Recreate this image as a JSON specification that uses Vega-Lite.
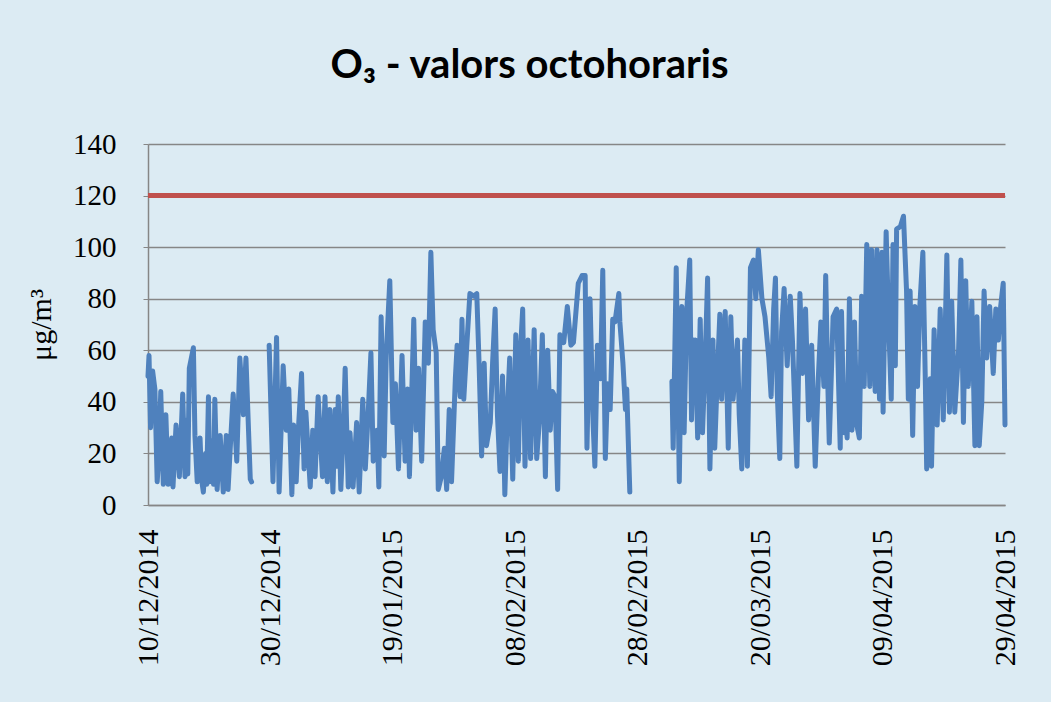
{
"$schema": "https://vega.github.io/schema/vega-lite/v6.json",
"width": 857, "height": 361,
"autosize": {"type": "none"},
"padding": {"left": 148, "top": 144, "right": 46, "bottom": 197},
"background": "#DCEBF3",
"title": {"text": "O₃ - valors octohoraris", "font": "Lato", "fontSize": 40, "fontWeight": "bold", "color": "#000000", "dx": -47, "offset": 44, "anchor": "middle"},
"config": {"view": {"stroke": null}},
"data": {"values": [
{"t":"2014-12-10T00:00","v":50,"s":1},{"t":"2014-12-10T04:00","v":58,"s":1},{"t":"2014-12-10T10:00","v":30,"s":1},{"t":"2014-12-10T18:00","v":52,"s":1},{"t":"2014-12-11T03:00","v":45,"s":1},{"t":"2014-12-11T12:00","v":9,"s":1},{"t":"2014-12-11T19:00","v":20,"s":1},{"t":"2014-12-12T02:00","v":44,"s":1},{"t":"2014-12-12T12:00","v":8,"s":1},{"t":"2014-12-12T22:00","v":35,"s":1},{"t":"2014-12-13T07:00","v":8,"s":1},{"t":"2014-12-13T14:00","v":20,"s":1},{"t":"2014-12-13T21:00","v":26,"s":1},{"t":"2014-12-14T02:00","v":7,"s":1},{"t":"2014-12-14T14:00","v":31,"s":1},{"t":"2014-12-15T03:00","v":11,"s":1},{"t":"2014-12-15T16:00","v":43,"s":1},{"t":"2014-12-16T01:00","v":11,"s":1},{"t":"2014-12-16T07:00","v":33,"s":1},{"t":"2014-12-16T12:00","v":12,"s":1},{"t":"2014-12-16T18:00","v":53,"s":1},{"t":"2014-12-17T10:00","v":61,"s":1},{"t":"2014-12-17T16:00","v":27,"s":1},{"t":"2014-12-18T01:00","v":9,"s":1},{"t":"2014-12-18T12:00","v":26,"s":1},{"t":"2014-12-18T18:00","v":10,"s":1},{"t":"2014-12-19T01:00","v":5,"s":1},{"t":"2014-12-19T10:00","v":20,"s":1},{"t":"2014-12-19T14:00","v":8,"s":1},{"t":"2014-12-19T21:00","v":42,"s":1},{"t":"2014-12-20T02:00","v":9,"s":1},{"t":"2014-12-20T12:00","v":25,"s":1},{"t":"2014-12-20T17:00","v":8,"s":1},{"t":"2014-12-20T22:00","v":41,"s":1},{"t":"2014-12-21T07:00","v":6,"s":1},{"t":"2014-12-21T19:00","v":27,"s":1},{"t":"2014-12-22T07:00","v":5,"s":1},{"t":"2014-12-22T19:00","v":27,"s":1},{"t":"2014-12-23T02:00","v":6,"s":1},{"t":"2014-12-23T12:00","v":25,"s":1},{"t":"2014-12-23T22:00","v":43,"s":1},{"t":"2014-12-24T12:00","v":17,"s":1},{"t":"2014-12-25T00:00","v":57,"s":1},{"t":"2014-12-25T14:00","v":35,"s":1},{"t":"2014-12-26T00:00","v":57,"s":1},{"t":"2014-12-26T17:00","v":10,"s":1},{"t":"2014-12-26T22:00","v":9,"s":1},
{"t":"2014-12-29T19:00","v":62,"s":2},{"t":"2014-12-30T10:00","v":9,"s":2},{"t":"2014-12-31T00:00","v":65,"s":2},{"t":"2014-12-31T10:00","v":5,"s":2},{"t":"2015-01-01T02:00","v":54,"s":2},{"t":"2015-01-01T14:00","v":29,"s":2},{"t":"2015-01-02T00:00","v":45,"s":2},{"t":"2015-01-02T12:00","v":4,"s":2},{"t":"2015-01-02T19:00","v":31,"s":2},{"t":"2015-01-03T05:00","v":9,"s":2},{"t":"2015-01-03T14:00","v":30,"s":2},{"t":"2015-01-04T02:00","v":51,"s":2},{"t":"2015-01-04T12:00","v":14,"s":2},{"t":"2015-01-04T19:00","v":36,"s":2},{"t":"2015-01-05T12:00","v":7,"s":2},{"t":"2015-01-05T22:00","v":29,"s":2},{"t":"2015-01-06T07:00","v":11,"s":2},{"t":"2015-01-06T19:00","v":42,"s":2},{"t":"2015-01-07T12:00","v":11,"s":2},{"t":"2015-01-07T22:00","v":42,"s":2},{"t":"2015-01-08T07:00","v":9,"s":2},{"t":"2015-01-08T17:00","v":37,"s":2},{"t":"2015-01-09T05:00","v":5,"s":2},{"t":"2015-01-09T14:00","v":37,"s":2},{"t":"2015-01-09T19:00","v":15,"s":2},{"t":"2015-01-10T02:00","v":42,"s":2},{"t":"2015-01-10T12:00","v":6,"s":2},{"t":"2015-01-10T22:00","v":30,"s":2},{"t":"2015-01-11T05:00","v":53,"s":2},{"t":"2015-01-11T17:00","v":7,"s":2},{"t":"2015-01-12T00:00","v":28,"s":2},{"t":"2015-01-12T12:00","v":7,"s":2},{"t":"2015-01-13T02:00","v":32,"s":2},{"t":"2015-01-13T12:00","v":5,"s":2},{"t":"2015-01-14T02:00","v":41,"s":2},{"t":"2015-01-14T12:00","v":14,"s":2},{"t":"2015-01-15T00:00","v":37,"s":2},{"t":"2015-01-15T10:00","v":59,"s":2},{"t":"2015-01-15T19:00","v":17,"s":2},{"t":"2015-01-16T10:00","v":29,"s":2},{"t":"2015-01-16T17:00","v":7,"s":2},{"t":"2015-01-17T02:00","v":73,"s":2},{"t":"2015-01-17T14:00","v":19,"s":2},{"t":"2015-01-17T22:00","v":58,"s":2},{"t":"2015-01-18T12:00","v":87,"s":2},{"t":"2015-01-19T00:00","v":32,"s":2},{"t":"2015-01-19T10:00","v":47,"s":2},{"t":"2015-01-19T22:00","v":14,"s":2},{"t":"2015-01-20T12:00","v":58,"s":2},{"t":"2015-01-21T00:00","v":17,"s":2},{"t":"2015-01-21T10:00","v":45,"s":2},{"t":"2015-01-21T17:00","v":11,"s":2},{"t":"2015-01-22T10:00","v":72,"s":2},{"t":"2015-01-22T19:00","v":29,"s":2},{"t":"2015-01-23T05:00","v":53,"s":2},{"t":"2015-01-23T17:00","v":17,"s":2},{"t":"2015-01-24T07:00","v":71,"s":2},{"t":"2015-01-24T19:00","v":55,"s":2},{"t":"2015-01-25T05:00","v":98,"s":2},{"t":"2015-01-25T14:00","v":68,"s":2},{"t":"2015-01-26T02:00","v":59,"s":2},{"t":"2015-01-26T10:00","v":6,"s":2},{"t":"2015-01-26T22:00","v":11,"s":2},{"t":"2015-01-27T10:00","v":22,"s":2},{"t":"2015-01-27T19:00","v":6,"s":2},{"t":"2015-01-28T05:00","v":37,"s":2},{"t":"2015-01-28T14:00","v":9,"s":2},{"t":"2015-01-29T05:00","v":49,"s":2},{"t":"2015-01-29T12:00","v":62,"s":2},{"t":"2015-01-30T00:00","v":42,"s":2},{"t":"2015-01-30T07:00","v":72,"s":2},{"t":"2015-01-30T14:00","v":41,"s":2},{"t":"2015-01-31T02:00","v":62,"s":2},{"t":"2015-01-31T14:00","v":82,"s":2},{"t":"2015-02-01T05:00","v":81,"s":2},{"t":"2015-02-01T17:00","v":82,"s":2},{"t":"2015-02-02T02:00","v":55,"s":2},{"t":"2015-02-02T12:00","v":19,"s":2},{"t":"2015-02-02T22:00","v":55,"s":2},{"t":"2015-02-03T07:00","v":23,"s":2},{"t":"2015-02-03T22:00","v":32,"s":2},{"t":"2015-02-04T07:00","v":55,"s":2},{"t":"2015-02-04T17:00","v":76,"s":2},{"t":"2015-02-05T02:00","v":35,"s":2},{"t":"2015-02-05T12:00","v":13,"s":2},{"t":"2015-02-05T22:00","v":50,"s":2},{"t":"2015-02-06T07:00","v":4,"s":2},{"t":"2015-02-06T17:00","v":37,"s":2},{"t":"2015-02-07T02:00","v":57,"s":2},{"t":"2015-02-07T14:00","v":10,"s":2},{"t":"2015-02-08T02:00","v":66,"s":2},{"t":"2015-02-08T12:00","v":17,"s":2},{"t":"2015-02-08T22:00","v":63,"s":2},{"t":"2015-02-09T05:00","v":76,"s":2},{"t":"2015-02-09T14:00","v":15,"s":2},{"t":"2015-02-10T02:00","v":64,"s":2},{"t":"2015-02-10T12:00","v":18,"s":2},{"t":"2015-02-11T02:00","v":68,"s":2},{"t":"2015-02-11T12:00","v":18,"s":2},{"t":"2015-02-11T22:00","v":32,"s":2},{"t":"2015-02-12T10:00","v":66,"s":2},{"t":"2015-02-12T22:00","v":11,"s":2},{"t":"2015-02-13T07:00","v":60,"s":2},{"t":"2015-02-13T17:00","v":29,"s":2},{"t":"2015-02-14T02:00","v":44,"s":2},{"t":"2015-02-14T12:00","v":42,"s":2},{"t":"2015-02-14T22:00","v":6,"s":2},{"t":"2015-02-15T07:00","v":66,"s":2},{"t":"2015-02-15T22:00","v":63,"s":2},{"t":"2015-02-16T12:00","v":77,"s":2},{"t":"2015-02-17T02:00","v":62,"s":2},{"t":"2015-02-17T12:00","v":63,"s":2},{"t":"2015-02-18T07:00","v":86,"s":2},{"t":"2015-02-18T22:00","v":89,"s":2},{"t":"2015-02-19T10:00","v":89,"s":2},{"t":"2015-02-19T17:00","v":22,"s":2},{"t":"2015-02-20T05:00","v":80,"s":2},{"t":"2015-02-20T17:00","v":32,"s":2},{"t":"2015-02-21T00:00","v":15,"s":2},{"t":"2015-02-21T10:00","v":62,"s":2},{"t":"2015-02-21T22:00","v":49,"s":2},{"t":"2015-02-22T07:00","v":91,"s":2},{"t":"2015-02-22T17:00","v":18,"s":2},{"t":"2015-02-23T02:00","v":47,"s":2},{"t":"2015-02-23T12:00","v":37,"s":2},{"t":"2015-02-23T22:00","v":72,"s":2},{"t":"2015-02-24T07:00","v":71,"s":2},{"t":"2015-02-24T22:00","v":82,"s":2},{"t":"2015-02-25T02:00","v":71,"s":2},{"t":"2015-02-25T14:00","v":55,"s":2},{"t":"2015-02-26T00:00","v":37,"s":2},{"t":"2015-02-26T05:00","v":45,"s":2},{"t":"2015-02-26T17:00","v":5,"s":2},
{"t":"2015-03-05T14:00","v":48,"s":3},{"t":"2015-03-05T19:00","v":22,"s":3},{"t":"2015-03-06T07:00","v":92,"s":3},{"t":"2015-03-06T19:00","v":9,"s":3},{"t":"2015-03-07T05:00","v":77,"s":3},{"t":"2015-03-07T14:00","v":28,"s":3},{"t":"2015-03-08T00:00","v":75,"s":3},{"t":"2015-03-08T12:00","v":95,"s":3},{"t":"2015-03-08T19:00","v":33,"s":3},{"t":"2015-03-09T02:00","v":64,"s":3},{"t":"2015-03-09T07:00","v":40,"s":3},{"t":"2015-03-09T10:00","v":64,"s":3},{"t":"2015-03-09T19:00","v":26,"s":3},{"t":"2015-03-10T05:00","v":72,"s":3},{"t":"2015-03-10T14:00","v":28,"s":3},{"t":"2015-03-11T00:00","v":55,"s":3},{"t":"2015-03-11T10:00","v":88,"s":3},{"t":"2015-03-11T19:00","v":14,"s":3},{"t":"2015-03-12T07:00","v":64,"s":3},{"t":"2015-03-12T14:00","v":22,"s":3},{"t":"2015-03-13T00:00","v":50,"s":3},{"t":"2015-03-13T10:00","v":74,"s":3},{"t":"2015-03-13T17:00","v":41,"s":3},{"t":"2015-03-14T07:00","v":75,"s":3},{"t":"2015-03-14T19:00","v":22,"s":3},{"t":"2015-03-15T05:00","v":73,"s":3},{"t":"2015-03-15T14:00","v":41,"s":3},{"t":"2015-03-16T07:00","v":64,"s":3},{"t":"2015-03-16T14:00","v":35,"s":3},{"t":"2015-03-17T00:00","v":14,"s":3},{"t":"2015-03-17T12:00","v":64,"s":3},{"t":"2015-03-17T22:00","v":15,"s":3},{"t":"2015-03-18T10:00","v":92,"s":3},{"t":"2015-03-18T22:00","v":95,"s":3},{"t":"2015-03-19T07:00","v":80,"s":3},{"t":"2015-03-19T17:00","v":99,"s":3},{"t":"2015-03-20T07:00","v":80,"s":3},{"t":"2015-03-20T19:00","v":73,"s":3},{"t":"2015-03-21T10:00","v":57,"s":3},{"t":"2015-03-21T19:00","v":42,"s":3},{"t":"2015-03-22T05:00","v":76,"s":3},{"t":"2015-03-22T12:00","v":88,"s":3},{"t":"2015-03-22T19:00","v":44,"s":3},{"t":"2015-03-23T05:00","v":18,"s":3},{"t":"2015-03-23T12:00","v":67,"s":3},{"t":"2015-03-23T22:00","v":84,"s":3},{"t":"2015-03-24T10:00","v":54,"s":3},{"t":"2015-03-24T22:00","v":81,"s":3},{"t":"2015-03-25T07:00","v":63,"s":3},{"t":"2015-03-26T00:00","v":15,"s":3},{"t":"2015-03-26T12:00","v":82,"s":3},{"t":"2015-03-26T22:00","v":51,"s":3},{"t":"2015-03-27T10:00","v":76,"s":3},{"t":"2015-03-27T22:00","v":33,"s":3},{"t":"2015-03-28T10:00","v":62,"s":3},{"t":"2015-03-29T00:00","v":15,"s":3},{"t":"2015-03-29T12:00","v":49,"s":3},{"t":"2015-03-29T22:00","v":71,"s":3},{"t":"2015-03-30T10:00","v":46,"s":3},{"t":"2015-03-30T17:00","v":89,"s":3},{"t":"2015-03-31T02:00","v":44,"s":3},{"t":"2015-03-31T07:00","v":24,"s":3},{"t":"2015-03-31T22:00","v":73,"s":3},{"t":"2015-04-01T12:00","v":76,"s":3},{"t":"2015-04-02T02:00","v":22,"s":3},{"t":"2015-04-02T07:00","v":75,"s":3},{"t":"2015-04-02T17:00","v":28,"s":3},{"t":"2015-04-02T22:00","v":45,"s":3},{"t":"2015-04-03T05:00","v":26,"s":3},{"t":"2015-04-03T14:00","v":80,"s":3},{"t":"2015-04-04T00:00","v":29,"s":3},{"t":"2015-04-04T10:00","v":71,"s":3},{"t":"2015-04-04T19:00","v":31,"s":3},{"t":"2015-04-05T05:00","v":26,"s":3},{"t":"2015-04-05T14:00","v":81,"s":3},{"t":"2015-04-06T00:00","v":46,"s":3},{"t":"2015-04-06T10:00","v":101,"s":3},{"t":"2015-04-06T22:00","v":46,"s":3},{"t":"2015-04-07T05:00","v":99,"s":3},{"t":"2015-04-07T19:00","v":44,"s":3},{"t":"2015-04-08T02:00","v":99,"s":3},{"t":"2015-04-08T12:00","v":41,"s":3},{"t":"2015-04-08T22:00","v":98,"s":3},{"t":"2015-04-09T02:00","v":36,"s":3},{"t":"2015-04-09T14:00","v":106,"s":3},{"t":"2015-04-10T00:00","v":70,"s":3},{"t":"2015-04-10T10:00","v":41,"s":3},{"t":"2015-04-10T17:00","v":101,"s":3},{"t":"2015-04-11T02:00","v":54,"s":3},{"t":"2015-04-11T07:00","v":107,"s":3},{"t":"2015-04-11T22:00","v":108,"s":3},{"t":"2015-04-12T10:00","v":112,"s":3},{"t":"2015-04-12T22:00","v":83,"s":3},{"t":"2015-04-13T05:00","v":41,"s":3},{"t":"2015-04-13T12:00","v":83,"s":3},{"t":"2015-04-13T22:00","v":27,"s":3},{"t":"2015-04-14T07:00","v":77,"s":3},{"t":"2015-04-14T17:00","v":46,"s":3},{"t":"2015-04-15T02:00","v":77,"s":3},{"t":"2015-04-15T14:00","v":98,"s":3},{"t":"2015-04-16T00:00","v":46,"s":3},{"t":"2015-04-16T05:00","v":14,"s":3},{"t":"2015-04-16T19:00","v":49,"s":3},{"t":"2015-04-17T00:00","v":15,"s":3},{"t":"2015-04-17T10:00","v":68,"s":3},{"t":"2015-04-17T22:00","v":31,"s":3},{"t":"2015-04-18T10:00","v":76,"s":3},{"t":"2015-04-18T22:00","v":33,"s":3},{"t":"2015-04-19T12:00","v":97,"s":3},{"t":"2015-04-19T22:00","v":36,"s":3},{"t":"2015-04-20T07:00","v":79,"s":3},{"t":"2015-04-20T19:00","v":36,"s":3},{"t":"2015-04-21T10:00","v":60,"s":3},{"t":"2015-04-21T19:00","v":95,"s":3},{"t":"2015-04-22T05:00","v":32,"s":3},{"t":"2015-04-22T14:00","v":87,"s":3},{"t":"2015-04-23T00:00","v":46,"s":3},{"t":"2015-04-23T14:00","v":79,"s":3},{"t":"2015-04-24T02:00","v":23,"s":3},{"t":"2015-04-24T10:00","v":73,"s":3},{"t":"2015-04-24T19:00","v":23,"s":3},{"t":"2015-04-25T05:00","v":40,"s":3},{"t":"2015-04-25T14:00","v":83,"s":3},{"t":"2015-04-26T00:00","v":57,"s":3},{"t":"2015-04-26T12:00","v":77,"s":3},{"t":"2015-04-27T02:00","v":51,"s":3},{"t":"2015-04-27T12:00","v":76,"s":3},{"t":"2015-04-27T22:00","v":64,"s":3},{"t":"2015-04-28T07:00","v":77,"s":3},{"t":"2015-04-28T17:00","v":86,"s":3},{"t":"2015-04-29T00:00","v":31,"s":3}
]},
"layer": [
{"mark": {"type": "line", "color": "#4F81BD", "strokeWidth": 5, "strokeJoin": "round", "strokeCap": "round"},
 "encoding": {
  "x": {"field": "t", "type": "temporal",
        "scale": {"domain": [{"year": 2014, "month": 12, "date": 10}, {"year": 2015, "month": 4, "date": 29}], "nice": false},
        "axis": {"title": null, "grid": false, "ticks": false, "labelAngle": -90, "format": "%d/%m/%Y",
                 "values": [{"year": 2014, "month": 12, "date": 10}, {"year": 2014, "month": 12, "date": 30}, {"year": 2015, "month": 1, "date": 19}, {"year": 2015, "month": 2, "date": 8}, {"year": 2015, "month": 2, "date": 28}, {"year": 2015, "month": 3, "date": 20}, {"year": 2015, "month": 4, "date": 9}, {"year": 2015, "month": 4, "date": 29}],
                 "labelFont": "Liberation Serif", "labelFontSize": 30, "labelColor": "#000000", "labelPadding": 24,
                 "labelOverlap": false, "labelFlush": false, "domainColor": "#868686", "domainWidth": 1.5}},
  "y": {"field": "v", "type": "quantitative",
        "scale": {"domain": [0, 140], "nice": false},
        "axis": {"title": "μg/m³", "titleFont": "Liberation Serif", "titleFontSize": 30, "titleFontWeight": "normal", "titleColor": "#000000", "titlePadding": 16,
                 "values": [0, 20, 40, 60, 80, 100, 120, 140], "grid": true, "gridColor": "#868686", "gridWidth": 1.3,
                 "domainColor": "#868686", "domainWidth": 1.5, "tickColor": "#868686", "tickSize": 5,
                 "labelFont": "Liberation Serif", "labelFontSize": 29, "labelColor": "#000000", "labelPadding": 27}},
  "detail": {"field": "s", "type": "nominal"}
 }},
{"mark": {"type": "rule", "color": "#C0504D", "strokeWidth": 4},
 "encoding": {"y": {"datum": 120}}}
]
}
